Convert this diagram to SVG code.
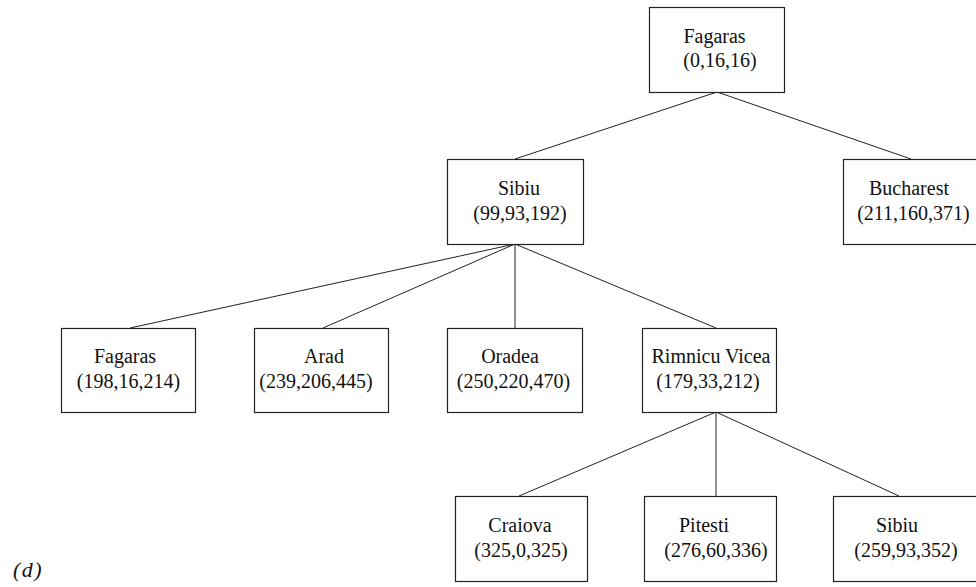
<svg xmlns="http://www.w3.org/2000/svg" width="976" height="587" viewBox="0 0 976 587">
  <style>
    .box { fill: #ffffff; stroke: #222222; stroke-width: 1.2; }
    .edge { stroke: #222222; stroke-width: 1; fill: none; }
    text { font-family: 'Liberation Serif', 'Times New Roman', serif; font-size: 20px; fill: #111111; text-anchor: middle; }
    .tag { font-style: italic; font-size: 22px; letter-spacing: 1.5px; text-anchor: start; }
  </style>
  <rect width="976" height="587" fill="#ffffff"/>

  <!-- tree edges: parent bottom to child top -->
  <g id="connectors">
    <line class="edge" x1="717" y1="92" x2="515" y2="159"/>
    <line class="edge" x1="717" y1="92" x2="911" y2="159"/>
    <line class="edge" x1="515" y1="244" x2="130" y2="328"/>
    <line class="edge" x1="515" y1="244" x2="323" y2="328"/>
    <line class="edge" x1="515" y1="244" x2="515" y2="328"/>
    <line class="edge" x1="515" y1="244" x2="716" y2="328"/>
    <line class="edge" x1="716" y1="412" x2="519" y2="496"/>
    <line class="edge" x1="716" y1="412" x2="716" y2="496"/>
    <line class="edge" x1="716" y1="412" x2="899" y2="496"/>
  </g>

  <g id="n-fagaras-root">
    <rect class="box" x="649.5" y="7.5" width="135" height="85"/>
    <text x="714.5" y="43">Fagaras</text>
    <text x="720" y="67">(0,16,16)</text>
  </g>

  <g id="n-sibiu">
    <rect class="box" x="447.5" y="159.5" width="136" height="85"/>
    <text x="519" y="195">Sibiu</text>
    <text x="520" y="220">(99,93,192)</text>
  </g>

  <g id="n-bucharest">
    <rect class="box" x="843.5" y="159.5" width="136" height="85"/>
    <text x="909" y="195">Bucharest</text>
    <text x="913.5" y="220">(211,160,371)</text>
  </g>

  <g id="n-fagaras">
    <rect class="box" x="61.5" y="328.5" width="134" height="84"/>
    <text x="125" y="363">Fagaras</text>
    <text x="128.5" y="388">(198,16,214)</text>
  </g>

  <g id="n-arad">
    <rect class="box" x="254.5" y="328.5" width="134" height="84"/>
    <text x="324" y="363">Arad</text>
    <text x="316" y="388">(239,206,445)</text>
  </g>

  <g id="n-oradea">
    <rect class="box" x="447.5" y="328.5" width="135" height="84"/>
    <text x="510" y="363">Oradea</text>
    <text x="513.5" y="388">(250,220,470)</text>
  </g>

  <g id="n-rimnicu">
    <rect class="box" x="642.5" y="328.5" width="134" height="84"/>
    <text x="711" y="363">Rimnicu Vicea</text>
    <text x="708" y="388">(179,33,212)</text>
  </g>

  <g id="n-craiova">
    <rect class="box" x="455.5" y="496.5" width="132" height="85"/>
    <text x="520" y="532">Craiova</text>
    <text x="521" y="557">(325,0,325)</text>
  </g>

  <g id="n-pitesti">
    <rect class="box" x="644.5" y="496.5" width="132" height="85"/>
    <text x="704" y="532">Pitesti</text>
    <text x="716" y="557">(276,60,336)</text>
  </g>

  <g id="n-sibiu-2">
    <rect class="box" x="833.5" y="496.5" width="150" height="85"/>
    <text x="897" y="532">Sibiu</text>
    <text x="906" y="557">(259,93,352)</text>
  </g>

  <text class="tag" x="13" y="577">(d)</text>
</svg>
